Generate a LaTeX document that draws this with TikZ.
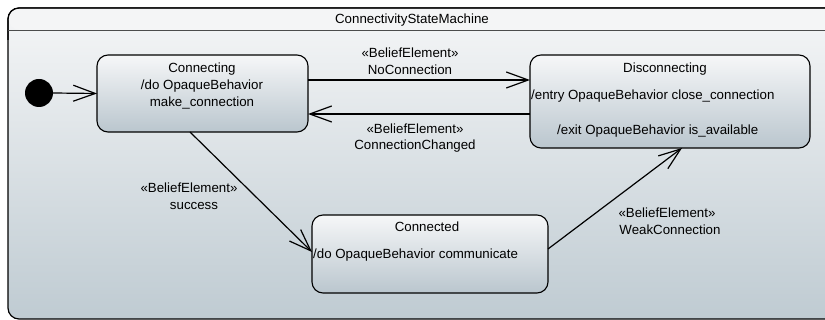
\documentclass[tikz,border=0pt]{standalone}
\usepackage{fontspec}
\setmainfont{Liberation Sans}
\usetikzlibrary{arrows.meta}
\definecolor{bgTop}{HTML}{F5F6F7}
\definecolor{bgBot}{HTML}{BFCBD2}
\definecolor{stTop}{HTML}{F6F7F8}
\definecolor{stBot}{HTML}{BAC6CE}
\definecolor{titleFill}{HTML}{F4F5F6}
\newcommand{\bel}{\guillemotleft BeliefElement\guillemotright}

\begin{document}
\begin{tikzpicture}[x=1pt,y=-1pt]
                        \tikzstyle{state}=[draw=black,line width=1.1pt,rounded corners=11pt,top color=stTop,bottom color=stBot,inner sep=0pt,outer sep=0pt]
                        \tikzstyle{txt}=[font=\fontsize{13.3}{16}\selectfont,inner sep=0pt,text height=9.5pt,text depth=0pt]
                        \tikzstyle{lbl}=[font=\fontsize{13.3}{17}\selectfont,align=center,inner sep=0pt]
                        \tikzstyle{trans}=[draw=black,line width=1.2pt,-{Straight Barb[length=22pt,width=16pt,line width=1.2pt]}]
                        \useasboundingbox (0,0) rectangle (825,320);
                        \clip (0,0) rectangle (825,320);
                        \draw[line width=1.2pt,rounded corners=11pt,top color=bgTop,bottom color=bgBot] (850,8) -- (8,8) -- (8,319) -- (850,319);
                        \fill[titleFill,rounded corners=11pt] (8.6,8.6) -- (8.6,30) -- (850,30) -- (850,8.6) -- cycle;
                        \draw[line width=1.2pt,rounded corners=11pt] (850,8) -- (8,8) -- (8,40);
                        \draw[line width=0.8pt,black!70] (8,30) -- (850,30);
                        \node[txt] (title) at (412,19) {ConnectivityStateMachine};
                        \node[circle,fill=black,minimum size=28pt,inner sep=0pt] (init) at (39,93) {};
                        \node[state,minimum width=211pt,minimum height=77pt] (conn) at (202.5,93.5) {};
                        \node[state,minimum width=280pt,minimum height=93pt] (disc) at (670,101.5) {};
                        \node[state,minimum width=236pt,minimum height=78pt] (connd) at (430,254) {};
                        \node[lbl] (connText) at (202,86) {Connecting\\/do OpaqueBehavior\\make\_connection};
                        \node[txt] (discName) at (665,68) {Disconnecting};
                        \node[txt,anchor=west] (discEntry) at (531,95) {/entry OpaqueBehavior close\_connection};
                        \node[txt,anchor=west] (discExit) at (557,130) {/exit OpaqueBehavior is\_available};
                        \node[txt] (conndName) at (427,227) {Connected};
                        \node[txt,anchor=west] (conndDo) at (313,254) {/do OpaqueBehavior communicate};
                        \draw[trans] (init.east) -- (conn.west);
                        \draw[trans] ([yshift=13.5pt]conn.east) -- ([yshift=21.5pt]disc.west);
                        \draw[trans] ([yshift=-12.5pt]disc.west) -- ([yshift=-20.5pt]conn.east);
                        \draw[trans] ([xshift=-12.5pt]conn.south) -- ([yshift=2pt]connd.west);
                        \draw[trans] ([yshift=5pt]connd.east) -- ([xshift=12pt]disc.south);
                        \node[lbl] (lblNoConn) at (410,61) {\bel\\NoConnection};
                        \node[lbl,font=\fontsize{13.3}{16}\selectfont] (lblChanged) at (415,138) {\bel\\ConnectionChanged};
                        \node[lbl] (lblSuccess) at (189,196.5) {\bel\\\hspace*{10pt}success};
                        \node[lbl] (lblWeak) at (670,221) {\bel\hspace*{6pt}\\WeakConnection};
\end{tikzpicture}
\end{document}
